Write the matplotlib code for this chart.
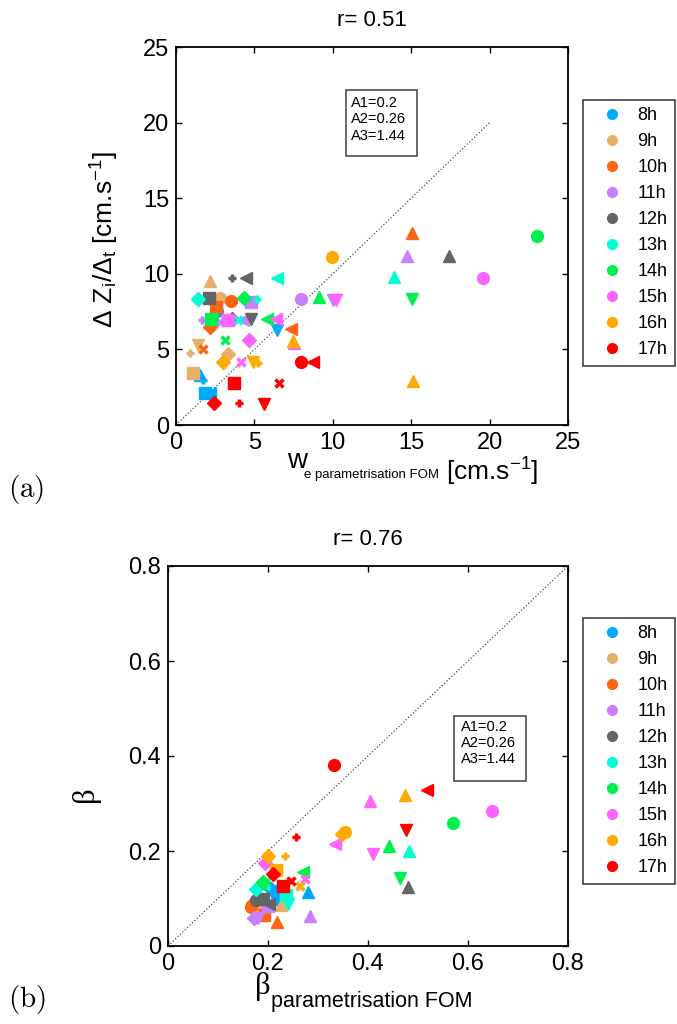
import matplotlib.pyplot as plt
from matplotlib.lines import Line2D
from matplotlib.patches import Rectangle

plt.rcParams['font.family'] = 'Liberation Sans'
plt.rcParams['mathtext.fontset'] = 'custom'
plt.rcParams['mathtext.rm'] = 'Liberation Sans'
plt.rcParams['mathtext.it'] = 'Liberation Sans:italic'

hours = ['8h', '9h', '10h', '11h', '12h', '13h', '14h', '15h', '16h', '17h']
colors = ['#00aaff', '#e6b06a', '#ff6414', '#c880ff', '#646464',
          '#00ffd2', '#00f050', '#ff64ff', '#ffaa00', '#ff0000']

# (a) entrainment velocity, one list per hour; markers one char per point
we_x = [
    [2.59, 6.46, 1.53, 1.75, 1.85, 2.17],
    [2.17, 2.81, 1.42, 0.89, 3.34, 1.10],
    [15.07, 3.51, 2.53, 2.17, 7.31, 1.74],
    [14.71, 7.97, 4.78, 10.0, 1.64, 2.81, 4.29],
    [17.43, 3.59, 4.46, 2.10, 3.59, 4.78],
    [13.9, 6.42, 1.42, 5.14, 3.95],
    [23.0, 9.14, 15.03, 4.34, 2.23, 5.78, 3.13],
    [19.6, 10.2, 3.34, 6.38, 4.66, 7.50, 4.12],
    [9.93, 7.44, 15.1, 2.98, 4.89, 5.20],
    [7.95, 8.72, 3.70, 6.59, 2.44, 4.02, 5.63],
]
we_y = [
    [7.54, 6.28, 3.31, 3.00, 2.10, 2.14],
    [9.54, 8.42, 5.29, 4.78, 4.69, 3.46],
    [12.68, 8.20, 7.78, 6.50, 6.35, 5.00],
    [11.18, 8.33, 8.16, 8.27, 6.94, 6.83, 6.94],
    [11.18, 9.74, 9.74, 8.37, 6.99, 6.99],
    [9.81, 9.74, 8.33, 8.33, 6.94],
    [12.52, 8.44, 8.31, 8.37, 6.99, 6.99, 5.62],
    [9.74, 8.27, 6.94, 6.99, 5.62, 5.45, 4.19],
    [11.13, 5.56, 2.91, 4.19, 4.19, 4.10],
    [4.19, 4.19, 2.80, 2.80, 1.43, 1.43, 1.39],
]
we_m = ['ov^+s<', '^ov+Ds', '^osD<x', '^osv+x<', '^+<sDv',
        '^<D+x', 'o^vDs<x', 'ovs<D^x', 'o^^Dv+', 'o<sxD+v']

# (b) beta, same layout
beta_x = [
    [0.217, 0.279, 0.206, 0.225, 0.207],
    [0.226, 0.184, 0.195],
    [0.166, 0.217, 0.191, 0.170],
    [0.171, 0.283, 0.180, 0.200],
    [0.479, 0.176, 0.201, 0.190],
    [0.481, 0.176, 0.236, 0.239, 0.190],
    [0.569, 0.441, 0.464, 0.269, 0.189],
    [0.647, 0.403, 0.334, 0.409, 0.194, 0.274],
    [0.474, 0.354, 0.348, 0.199, 0.233, 0.216, 0.264],
    [0.331, 0.517, 0.476, 0.256, 0.209, 0.229, 0.245],
]
beta_y = [
    [0.100, 0.113, 0.121, 0.108, 0.118],
    [0.086, 0.079, 0.090],
    [0.083, 0.051, 0.065, 0.090],
    [0.060, 0.064, 0.060, 0.085],
    [0.125, 0.097, 0.088, 0.100],
    [0.201, 0.119, 0.107, 0.088, 0.130],
    [0.260, 0.211, 0.143, 0.155, 0.135],
    [0.284, 0.306, 0.215, 0.193, 0.175, 0.141],
    [0.318, 0.239, 0.236, 0.189, 0.190, 0.161, 0.126],
    [0.381, 0.328, 0.244, 0.230, 0.151, 0.126, 0.137],
]
beta_m = ['o^Ds<', '^+x', 'o^sD', 'D^vs', '^o<s',
          '^Dsv<', 'o^v<D', 'o^<vDx', '^oDD+sx', 'o<v+Dsx']

params = 'A1=0.2\nA2=0.26\nA3=1.44'

W, H = 677, 1024  # figure size in pixels, used to place the labels


def fx(px):
    return px / W


def fy(py):
    return 1 - py / H


def draw_points(ax, xs, ys, ms):
    for c, x, y, m in zip(colors, xs, ys, ms):
        for xi, yi, mi in zip(x, y, m):
            if mi in '+x':
                ax.plot(xi, yi, mi, color=c, ms=6, mew=2.5)
            elif mi == 'D':
                ax.plot(xi, yi, mi, color=c, ms=7, mec=c)
            else:
                ax.plot(xi, yi, mi, color=c, ms=8.5, mec=c)


def style_axes(ax):
    ax.tick_params(direction='in', top=True, right=True, labelsize=17,
                   width=1.0, length=4, pad=5)
    for s in ax.spines.values():
        s.set_linewidth(1.3)


def param_box(ax, x0, y0, x1, y1, tx, ty):
    ax.add_patch(Rectangle((x0, y0), x1 - x0, y1 - y0, transform=ax.transAxes,
                           fc='white', ec='0.25', lw=1.1, zorder=5))
    ax.text(tx, ty, params, transform=ax.transAxes, fontsize=10.5,
            va='top', ha='left', linespacing=1.2, zorder=6)


def add_legend(ax, top):
    handles = [Line2D([], [], marker='o', ls='none', color=c, ms=7, label=h)
               for h, c in zip(hours, colors)]
    leg = ax.legend(handles=handles, loc='upper left',
                    bbox_to_anchor=(fx(583), fy(top)),
                    bbox_transform=fig.transFigure, fontsize=13, frameon=True,
                    fancybox=False, edgecolor='k', labelspacing=0.5,
                    handletextpad=0.2, borderpad=0.4, handlelength=2.4,
                    borderaxespad=0)
    leg.get_frame().set_linewidth(1.1)


fig = plt.figure(figsize=(6.77, 10.24), dpi=100)

# panel (a)
ax1 = fig.add_axes([fx(176), fy(425), fx(568) - fx(176), fy(47) - fy(425)])
ax1.plot([0, 20], [0, 20], ':', color='0.3', lw=0.9)
draw_points(ax1, we_x, we_y, we_m)
ax1.set_xlim(0, 25)
ax1.set_ylim(0, 25)
ax1.set_xticks([0, 5, 10, 15, 20, 25])
ax1.set_yticks([0, 5, 10, 15, 20, 25])
style_axes(ax1)
ax1.set_title('r= 0.51', fontsize=16, pad=15)
ax1.set_ylabel(r'Δ Z$_{\rm i}$/Δ$_{\rm t}$ [cm.s$^{-1}$]', fontsize=19)
ax1.yaxis.set_label_coords(-0.14, 0.49)
param_box(ax1, 0.434, 0.712, 0.615, 0.886, 0.447, 0.87)
add_legend(ax1, 100)

fig.text(fx(287), fy(468), 'w', fontsize=20, va='baseline')
fig.text(fx(304), fy(478), 'e parametrisation FOM', fontsize=9.5, va='baseline')
fig.text(fx(446), fy(481), r'[cm.s$^{-1}$]', fontsize=19, va='baseline')

# panel (b)
ax2 = fig.add_axes([fx(168), fy(946), fx(568) - fx(168), fy(566) - fy(946)])
ax2.plot([0, 0.8], [0, 0.8], ':', color='0.3', lw=0.9)
draw_points(ax2, beta_x, beta_y, beta_m)
ax2.set_xlim(0, 0.8)
ax2.set_ylim(0, 0.8)
ax2.set_xticks([0, 0.2, 0.4, 0.6, 0.8])
ax2.set_yticks([0, 0.2, 0.4, 0.6, 0.8])
ax2.set_xticklabels(['0', '0.2', '0.4', '0.6', '0.8'])
ax2.set_yticklabels(['0', '0.2', '0.4', '0.6', '0.8'])
style_axes(ax2)
ax2.set_title('r= 0.76', fontsize=16, pad=15)
ax2.set_ylabel('β', fontsize=22, family='Liberation Serif')
ax2.yaxis.set_label_coords(-0.17, 0.4)
param_box(ax2, 0.715, 0.434, 0.895, 0.605, 0.7325, 0.595)
add_legend(ax2, 618)

fig.text(fx(255), fy(994), 'β', fontsize=22, family='Liberation Serif',
         va='baseline')
fig.text(fx(271), fy(1007), 'parametrisation FOM', fontsize=15.5, va='baseline')

fig.text(fx(8), fy(490), r'$\mathrm{(a)}$', fontsize=21,
         math_fontfamily='cm', va='center')
fig.text(fx(8), fy(1000), r'$\mathrm{(b)}$', fontsize=21,
         math_fontfamily='cm', va='center')

fig.savefig('out.png', dpi=100)
